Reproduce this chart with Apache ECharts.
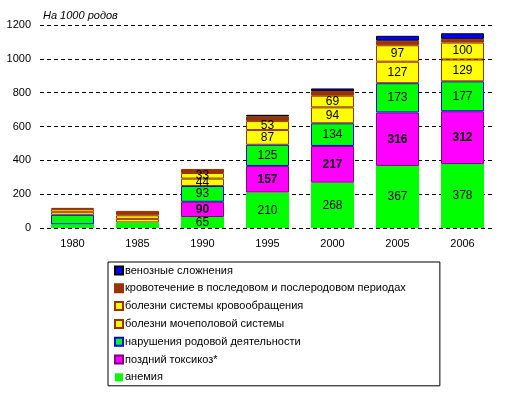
<!DOCTYPE html>
<html>
<head>
<meta charset="utf-8">
<script src="https://cdn.jsdelivr.net/npm/echarts@6/dist/echarts.min.js"></script>
<style>
  html, body { margin: 0; padding: 0; background: #fff; }
  #chart { width: 515px; height: 397px; }
</style>
</head>
<body>
<div id="chart"></div>
<script>
const years = ['1980', '1985', '1990', '1995', '2000', '2005', '2006']
const yTicks = [0, 200, 400, 600, 800, 1000, 1200]

// stacked bottom to top
const anemia      = [22, 33, 65, 210, 268, 367, 378]
const toxicosis   = ['-', '-', 90, 157, 217, 316, 312]
const labour      = [56, '-', 93, 125, 134, 173, 177]
const urogenital  = [18, 21, 44, 87, 94, 127, 129]
const circulation = [16, 21, 33, 53, 69, 97, 100]
const bleeding    = [7, 26, 24, 27, 27, 27, 22]
const venous      = ['-', '-', '-', 10, 16, 29, 33]

const names = {
  venous: 'венозные сложнения',
  bleeding: 'кровотечение в последовом и послеродовом периодах',
  circulation: 'болезни системы кровообращения',
  urogenital: 'болезни мочеполовой системы',
  labour: 'нарушения родовой деятельности',
  toxicosis: 'поздний токсикоз*',
  anemia: 'анемия',
}

const FONT = '"Liberation Sans", Arial, sans-serif'

// values are printed from 1990 onward only
const labelFmt = p => (p.dataIndex < 2 || p.value === '-' ? '' : String(p.value))

function bar(name, data, fill, border, label) {
  return {
    name,
    type: 'bar',
    stack: 'total',
    data,
    barWidth: 43,
    itemStyle: { color: fill, borderColor: border, borderWidth: border ? 1 : 0 },
    label: label
      ? Object.assign({ show: true, position: 'inside', color: '#000', fontFamily: FONT, fontSize: 12, formatter: labelFmt }, label)
      : { show: false },
    emphasis: { disabled: true },
  }
}

const chart = echarts.init(document.getElementById('chart'), null, { renderer: 'canvas' })

chart.setOption({
  animation: false,
  textStyle: { fontFamily: FONT },
  title: {
    text: 'На 1000 родов',
    left: 38,
    top: 5,
    textStyle: { fontSize: 11, fontStyle: 'italic', fontWeight: 'normal', color: '#000', fontFamily: FONT },
  },
  grid: { left: 40, right: 20, top: 25, bottom: 169 },
  xAxis: {
    type: 'category',
    data: years,
    axisLine: { show: false },
    axisTick: { show: false },
    axisLabel: { color: '#000', fontSize: 11, margin: 10, fontFamily: FONT },
  },
  yAxis: {
    type: 'value',
    min: yTicks[0],
    max: yTicks[yTicks.length - 1],
    interval: 200,
    axisLine: { show: false },
    axisTick: { show: false },
    axisLabel: { color: '#000', fontSize: 11, margin: 9, fontFamily: FONT, formatter: v => String(v) },
    splitLine: { lineStyle: { color: '#000', type: [4, 3], width: 1 } },
  },
  legend: {
    orient: 'vertical',
    left: 108,
    top: 262,
    data: [names.venous, names.bleeding, names.circulation, names.urogenital, names.labour, names.toxicosis, names.anemia],
    icon: 'rect',
    itemWidth: 8,
    itemHeight: 8,
    itemGap: 6.8,
    padding: [3, 34, 3, 6],
    borderColor: '#000',
    borderWidth: 1,
    selectedMode: false,
    textStyle: { fontSize: 11, color: '#000', fontFamily: FONT, padding: [0, 0, 0, -3] },
  },
  series: [
    bar(names.anemia, anemia, '#00ff00', null, {}),
    bar(names.toxicosis, toxicosis, '#ff00ff', '#800080', { fontWeight: 'bold' }),
    bar(names.labour, labour, '#00ff00', '#0000ff', {}),
    bar(names.urogenital, urogenital, '#ffff00', '#993300', {}),
    bar(names.circulation, circulation, '#ffff00', '#993300', {}),
    bar(names.bleeding, bleeding, '#993300', '#993300', null),
    bar(names.venous, venous, '#0000ff', '#000000', null),
  ],
})
</script>
</body>
</html>
